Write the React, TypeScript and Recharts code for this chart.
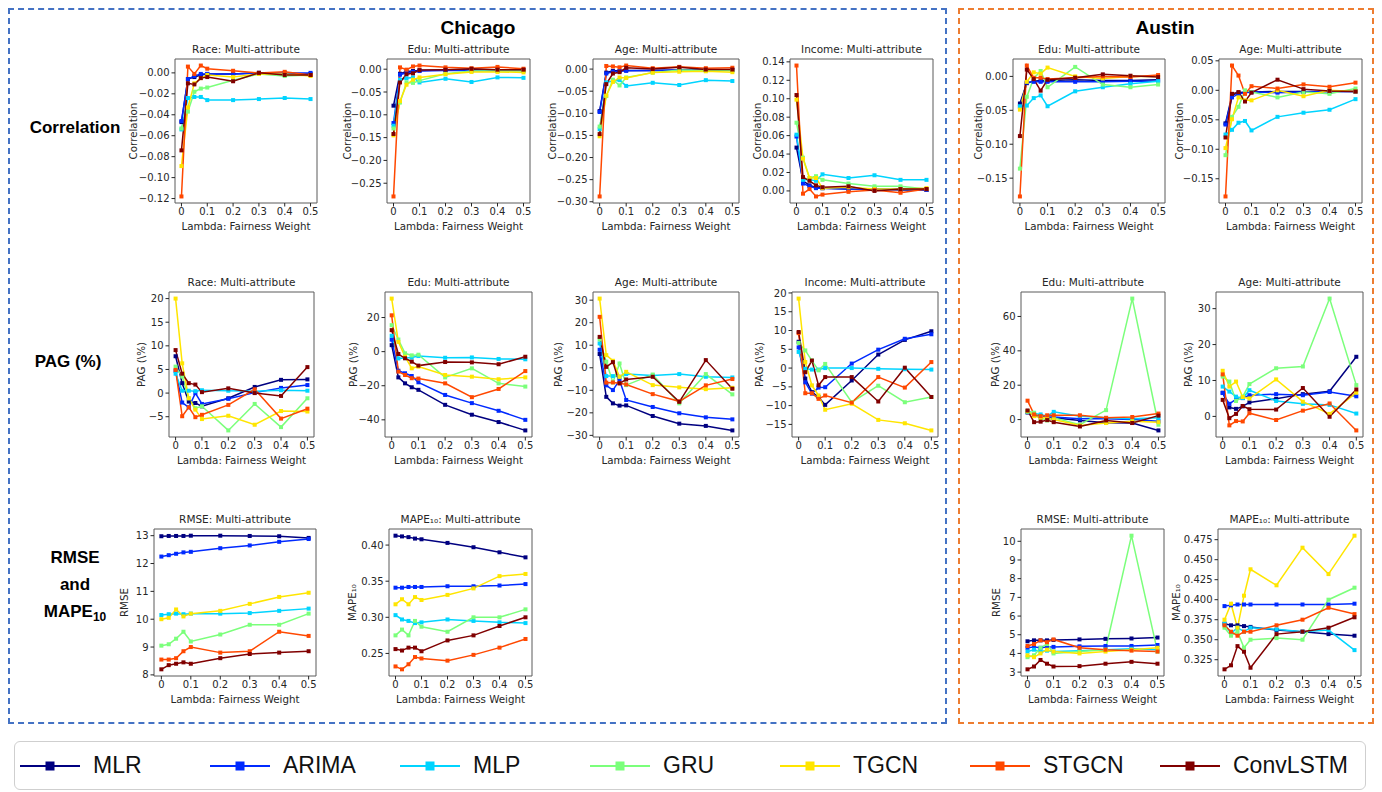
import React from 'react'
import { LineChart, Line, XAxis, YAxis, ReferenceArea } from 'recharts'

const LAMBDA = [0, 0.025, 0.05, 0.075, 0.1, 0.2, 0.3, 0.4, 0.5]
const MODELS = ['MLR', 'ARIMA', 'MLP', 'GRU', 'TGCN', 'STGCN', 'ConvLSTM']
const COLORS = ['#000080', '#002aff', '#00d4ff', '#7bff7b', '#ffe500', '#ff4800', '#800000']
const X_TICKS = [0, 0.1, 0.2, 0.3, 0.4, 0.5]

type Series = Record<string, number[]>

// ---- Chicago, correlation ----
const chiRaceCorr: Series = {
  MLR: [-0.047, -0.006, -0.004, -0.002, -0.001, -0.001, 0.0, -0.001, -0.001],
  ARIMA: [-0.046, -0.006, -0.003, -0.001, -0.001, -0.001, 0.0, 0.0, 0.0],
  MLP: [-0.054, -0.024, -0.023, -0.023, -0.026, -0.026, -0.025, -0.024, -0.025],
  GRU: [-0.053, -0.037, -0.018, -0.015, -0.014, -0.007, -0.001, -0.003, -0.002],
  TGCN: [-0.089, -0.033, -0.01, -0.005, -0.002, -0.004, -0.001, -0.001, -0.003],
  STGCN: [-0.118, 0.006, -0.001, 0.007, 0.004, 0.002, 0.0, 0.001, -0.002],
  ConvLSTM: [-0.074, -0.01, -0.011, -0.005, -0.004, -0.008, 0.0, -0.002, -0.002],
}
const chiEduCorr: Series = {
  MLR: [-0.08, -0.01, -0.005, -0.004, -0.003, -0.002, -0.001, -0.002, -0.002],
  ARIMA: [-0.118, -0.012, -0.008, -0.006, -0.004, -0.003, -0.003, -0.003, -0.003],
  MLP: [-0.124, -0.023, -0.02, -0.018, -0.029, -0.021, -0.028, -0.018, -0.019],
  GRU: [-0.13, -0.073, -0.029, -0.03, -0.025, -0.01, -0.004, -0.004, -0.004],
  TGCN: [-0.145, -0.07, -0.034, -0.023, -0.018, -0.011, -0.006, -0.006, -0.007],
  STGCN: [-0.279, 0.004, -0.001, 0.006, 0.008, 0.004, 0.002, 0.005, 0.001],
  ConvLSTM: [-0.142, -0.029, -0.011, -0.009, -0.002, -0.001, 0.001, -0.001, -0.001],
}
const chiAgeCorr: Series = {
  MLR: [-0.095, -0.008, -0.004, -0.004, -0.003, -0.003, -0.002, -0.002, -0.002],
  ARIMA: [-0.097, -0.01, -0.006, -0.005, -0.004, -0.003, -0.002, -0.002, -0.002],
  MLP: [-0.136, -0.03, -0.027, -0.025, -0.038, -0.031, -0.036, -0.025, -0.027],
  GRU: [-0.13, -0.061, -0.024, -0.037, -0.019, -0.008, -0.002, -0.003, -0.004],
  TGCN: [-0.152, -0.06, -0.029, -0.019, -0.02, -0.008, -0.006, -0.005, -0.007],
  STGCN: [-0.288, 0.007, 0.006, 0.004, 0.008, 0.002, 0.005, 0.002, 0.003],
  ConvLSTM: [-0.147, -0.034, -0.01, -0.007, 0.003, 0.0, 0.004, -0.001, -0.001],
}
const chiIncCorr: Series = {
  MLR: [0.047, 0.011, 0.006, 0.004, 0.003, 0.002, 0.002, 0.001, 0.001],
  ARIMA: [0.059, 0.008, 0.005, 0.003, 0.003, 0.002, 0.002, 0.002, 0.001],
  MLP: [0.061, 0.012, 0.012, 0.011, 0.018, 0.014, 0.017, 0.012, 0.012],
  GRU: [0.074, 0.036, 0.014, 0.016, 0.012, 0.008, 0.005, 0.005, 0.002],
  TGCN: [0.099, 0.035, 0.014, 0.014, 0.003, 0.004, 0.002, 0.002, 0.003],
  STGCN: [0.136, -0.003, 0.002, -0.006, -0.004, -0.001, 0.001, -0.002, 0.002],
  ConvLSTM: [0.104, 0.015, 0.011, 0.006, 0.004, 0.005, 0.0, 0.002, 0.002],
}

// ---- Austin, correlation ----
const ausEduCorr: Series = {
  MLR: [-0.04, -0.01, -0.007, -0.006, -0.006, -0.005, -0.006, -0.006, -0.005],
  ARIMA: [-0.045, -0.009, -0.008, -0.008, -0.008, -0.008, -0.008, -0.007, -0.007],
  MLP: [-0.044, -0.043, -0.032, -0.028, -0.044, -0.022, -0.016, -0.011, -0.007],
  GRU: [-0.136, -0.03, -0.003, 0.008, -0.016, 0.014, -0.012, -0.016, -0.012],
  TGCN: [-0.049, -0.008, 0.006, 0.004, 0.013, 0.0, -0.003, 0.0, 0.0],
  STGCN: [-0.177, 0.016, -0.002, -0.002, -0.004, -0.002, 0.0, -0.001, 0.002],
  ConvLSTM: [-0.088, 0.01, -0.004, -0.021, -0.005, -0.002, 0.003, 0.001, -0.001],
}
const ausAgeCorr: Series = {
  MLR: [-0.056, -0.008, -0.004, -0.003, -0.003, -0.002, -0.002, -0.002, -0.002],
  ARIMA: [-0.058, -0.012, -0.006, -0.004, -0.003, -0.004, -0.003, -0.002, -0.002],
  MLP: [-0.075, -0.067, -0.055, -0.052, -0.068, -0.045, -0.038, -0.033, -0.015],
  GRU: [-0.11, -0.045, -0.028, 0.0, -0.003, -0.012, -0.003, -0.006, 0.003],
  TGCN: [-0.098, -0.049, -0.012, -0.017, -0.017, 0.0, -0.01, 0.0, -0.002],
  STGCN: [-0.18, 0.042, 0.025, -0.006, 0.007, 0.003, 0.01, 0.006, 0.013],
  ConvLSTM: [-0.08, -0.006, -0.003, -0.019, -0.004, 0.018, 0.002, -0.001, -0.002],
}

// ---- Chicago, PAG ----
const chiRacePag: Series = {
  MLR: [7.8, 2.1, -1.8, -2.1, -2.8, -1.1, 1.3, 2.8, 2.9],
  ARIMA: [4.7, -2.0, -3.0, 0.0, -2.3, -1.2, 0.1, 1.1, 1.7],
  MLP: [4.1, 0.5, 0.5, 0.4, 0.6, 0.5, 0.4, 0.6, 0.5],
  GRU: [5.6, 3.5, -1.1, -3.2, -2.8, -7.9, -2.3, -7.2, -1.1],
  TGCN: [20.0, 6.3, -1.1, -3.5, -5.5, -4.8, -6.7, -3.8, -3.9],
  STGCN: [4.9, -4.9, -3.0, -5.1, -4.6, -2.5, 0.8, -5.4, -3.3],
  ConvLSTM: [9.1, 4.1, 2.1, 1.8, 0.2, 1.0, 0.0, -0.6, 5.5],
}
const chiEduPag: Series = {
  MLR: [3.8, -15.1, -18.6, -20.9, -22.4, -31.2, -37.0, -41.3, -46.2],
  ARIMA: [7.0, -11.2, -12.7, -14.3, -18.0, -25.4, -30.2, -34.7, -40.0],
  MLP: [9.3, -4.0, -3.8, -3.5, -2.6, -3.6, -3.4, -4.3, -4.5],
  GRU: [15.5, 7.1, -1.0, -2.2, -1.8, -15.1, -9.8, -18.6, -20.5],
  TGCN: [31.1, 5.7, -3.0, -9.8, -8.8, -13.7, -14.7, -16.2, -15.1],
  STGCN: [21.3, -11.7, -13.7, -15.6, -15.8, -18.6, -26.7, -21.9, -11.4],
  ConvLSTM: [12.6, -1.4, -3.9, -5.9, -8.2, -6.1, -6.3, -7.4, -3.0],
}
const chiAgePag: Series = {
  MLR: [6.1, -12.9, -15.8, -16.8, -16.7, -21.4, -24.8, -25.8, -27.8],
  ARIMA: [8.0, -7.8, -9.9, -5.5, -14.3, -17.4, -20.2, -22.0, -22.9],
  MLP: [10.8, -3.7, -3.7, -4.0, -2.8, -3.4, -2.8, -4.0, -4.3],
  GRU: [12.6, 2.7, -6.5, 1.9, -7.7, -3.0, -15.8, -2.8, -11.8],
  TGCN: [30.7, 5.6, 3.1, -4.0, -1.8, -7.7, -8.7, -9.5, -8.9],
  STGCN: [22.6, -6.6, -6.5, -6.9, -7.4, -11.7, -14.9, -7.8, -5.0],
  ConvLSTM: [13.7, 0.4, 2.5, -6.9, -5.2, -4.0, -15.1, 3.4, -9.3],
}
const chiIncPag: Series = {
  MLR: [7.0, -2.8, -6.4, -7.7, -9.8, -3.3, 3.6, 7.5, 9.8],
  ARIMA: [5.5, -3.8, -6.8, -5.2, -5.1, 1.2, 4.9, 7.8, 9.0],
  MLP: [4.3, -0.2, -0.4, -0.4, 0.0, 0.0, -0.2, -0.3, -0.4],
  GRU: [6.7, 4.7, 2.0, -0.6, 1.1, -9.1, -4.7, -9.1, -7.7],
  TGCN: [18.5, 1.6, -4.6, -7.3, -11.1, -9.5, -13.8, -14.7, -16.6],
  STGCN: [9.3, -6.7, -6.7, -8.2, -7.3, -9.2, -2.4, -5.2, 1.6],
  ConvLSTM: [9.6, -1.1, 2.0, -4.6, -2.4, -2.4, -8.9, 0.1, -7.7],
}

// ---- Austin, PAG ----
const ausEduPag: Series = {
  MLR: [4.1, 2.6, 2.0, 1.0, 1.0, -0.5, -1.8, -2.0, -6.3],
  ARIMA: [4.5, 2.5, 1.5, 1.5, 1.5, 0.5, 0.5, 0.0, -1.0],
  MLP: [5.0, 3.5, 3.0, 2.0, 4.5, 2.0, 1.0, 0.5, 1.0],
  GRU: [4.5, 4.0, 1.0, -0.5, 1.0, -3.0, 5.5, 70.4, -3.0],
  TGCN: [5.0, 2.0, 1.0, 1.0, 0.0, -3.5, -2.0, -1.0, -1.5],
  STGCN: [11.0, 3.0, 2.0, 2.5, 2.5, 2.5, 1.0, 1.5, 3.5],
  ConvLSTM: [5.3, -1.5, -1.2, -0.3, -1.5, -4.0, -0.5, -2.0, 2.3],
}
const ausAgePag: Series = {
  MLR: [6.6, 2.5, 2.1, 2.8, 3.9, 4.9, 6.2, 7.0, 16.6],
  ARIMA: [6.5, 3.5, 4.8, 5.1, 5.9, 6.2, 5.9, 6.8, 5.6],
  MLP: [8.3, 6.9, 5.5, 5.1, 7.3, 4.3, 3.5, 3.2, 0.8],
  GRU: [11.1, 9.7, 4.3, 5.5, 9.0, 13.4, 13.9, 32.8, 8.7],
  TGCN: [12.7, 8.3, 9.7, 5.4, 5.0, 10.3, 4.1, 0.7, 6.6],
  STGCN: [11.7, -2.5, -1.3, -1.4, 0.9, -1.0, 1.6, 3.6, -3.9],
  ConvLSTM: [4.6, -0.5, 0.7, 2.9, 2.0, 1.9, 7.9, -0.1, 7.5],
}

// ---- Error metrics ----
const chiRmse: Series = {
  MLR: [12.98, 12.99, 12.99, 12.99, 13.0, 13.0, 12.99, 12.98, 12.92],
  ARIMA: [12.25, 12.3, 12.35, 12.4, 12.42, 12.55, 12.65, 12.78, 12.88],
  MLP: [10.15, 10.18, 10.2, 10.18, 10.2, 10.2, 10.22, 10.3, 10.38],
  GRU: [9.05, 9.1, 9.3, 9.55, 9.2, 9.45, 9.8, 9.8, 10.2],
  TGCN: [10.0, 10.05, 10.35, 10.1, 10.2, 10.3, 10.55, 10.8, 10.95],
  STGCN: [8.55, 8.55, 8.6, 8.85, 9.0, 8.8, 8.85, 9.55, 9.4],
  ConvLSTM: [8.2, 8.35, 8.4, 8.45, 8.4, 8.6, 8.75, 8.8, 8.85],
}
const chiMape: Series = {
  MLR: [0.413, 0.412, 0.411, 0.409, 0.408, 0.403, 0.397, 0.39, 0.383],
  ARIMA: [0.341, 0.341, 0.342, 0.342, 0.342, 0.343, 0.343, 0.344, 0.346],
  MLP: [0.303, 0.297, 0.295, 0.292, 0.293, 0.297, 0.295, 0.293, 0.292],
  GRU: [0.275, 0.283, 0.275, 0.295, 0.287, 0.28, 0.3, 0.3, 0.311],
  TGCN: [0.318, 0.325, 0.318, 0.328, 0.324, 0.331, 0.34, 0.357, 0.36],
  STGCN: [0.232, 0.228, 0.235, 0.245, 0.243, 0.24, 0.248, 0.258, 0.27],
  ConvLSTM: [0.256, 0.254, 0.258, 0.258, 0.253, 0.268, 0.275, 0.288, 0.3],
}
const ausRmse: Series = {
  MLR: [4.65, 4.7, 4.7, 4.7, 4.72, 4.75, 4.78, 4.8, 4.85],
  ARIMA: [4.3, 4.35, 4.3, 4.35, 4.35, 4.38, 4.4, 4.4, 4.45],
  MLP: [4.1, 4.2, 4.1, 4.15, 4.1, 4.15, 4.2, 4.25, 4.2],
  GRU: [3.8, 3.9, 4.3, 4.5, 4.0, 4.1, 4.2, 10.3, 4.1],
  TGCN: [3.9, 3.8, 4.0, 4.2, 4.1, 4.0, 4.1, 4.2, 4.3],
  STGCN: [4.4, 4.5, 4.7, 4.6, 4.75, 4.3, 4.2, 4.15, 4.1],
  ConvLSTM: [3.15, 3.3, 3.65, 3.45, 3.3, 3.32, 3.45, 3.55, 3.45],
}
const ausMape: Series = {
  MLR: [0.37, 0.368, 0.368, 0.367, 0.366, 0.362, 0.36, 0.357, 0.355],
  ARIMA: [0.392, 0.393, 0.394, 0.394, 0.394, 0.394, 0.394, 0.394, 0.395],
  MLP: [0.37, 0.358, 0.365, 0.36, 0.365, 0.363, 0.36, 0.362, 0.337],
  GRU: [0.365, 0.355, 0.36, 0.34, 0.35, 0.352, 0.35, 0.4, 0.415],
  TGCN: [0.375, 0.395, 0.365, 0.405, 0.438, 0.418, 0.465, 0.432, 0.48],
  STGCN: [0.368, 0.36, 0.355, 0.36, 0.36, 0.368, 0.375, 0.39, 0.382],
  ConvLSTM: [0.313, 0.318, 0.342, 0.335, 0.315, 0.357, 0.36, 0.365, 0.378],
}

const MPL_FONT = 'DejaVu Sans, sans-serif'
const TXT = '#262626'

function fmtNum(v: number, digits: number) {
  const s = Math.abs(v) < 1e-9 ? (0).toFixed(digits) : v.toFixed(digits)
  return s.replace('-', '\u2212')
}

interface PanelProps {
  title: string
  yLabel: string
  series: Series
  left: number
  top: number
  w: number
  h: number
  yTicks: number[]
  digits: number
  gap: number
}

const YW = 70
const XH = 34
const MT = 8
const MR = 3

function Panel({ title, yLabel, series, left, top, w, h, yTicks, digits, gap }: PanelProps) {
  const data = LAMBDA.map((x, i) => {
    const row: Record<string, number> = { x }
    MODELS.forEach((m) => (row[m] = series[m][i]))
    return row
  })
  const all = MODELS.flatMap((m) => series[m])
  const lo = Math.min(...all)
  const hi = Math.max(...all)
  const pad = (hi - lo) * 0.05
  const yDomain = [lo - pad, hi + pad]

  const xLabel = (props: any) => {
    const vb = props.viewBox
    return (
      <text x={vb.x + vb.width / 2} y={vb.y + 27} textAnchor="middle" fontSize={10.3} fill={TXT} fontFamily={MPL_FONT}>
        Lambda: Fairness Weight
      </text>
    )
  }
  const yLab = (props: any) => {
    const vb = props.viewBox
    const cx = vb.x + vb.width - gap + 4
    const cy = vb.y + vb.height / 2
    return (
      <text x={cx} y={cy} transform={`rotate(-90 ${cx} ${cy})`} textAnchor="middle" fontSize={10.3} fill={TXT} fontFamily={MPL_FONT}>
        {yLabel}
      </text>
    )
  }

  return (
    <>
      <div
        style={{
          position: 'absolute',
          left,
          top: top - 16,
          width: w,
          textAlign: 'center',
          fontFamily: MPL_FONT,
          fontSize: 10.5,
          lineHeight: '13px',
          color: TXT,
          whiteSpace: 'nowrap',
        }}
      >
        {title}
      </div>
      <div style={{ position: 'absolute', left: left - YW, top: top - MT }}>
        <LineChart width={YW + w + MR} height={MT + h + XH} data={data} margin={{ top: MT, right: MR, left: 0, bottom: 0 }}>
          <XAxis
            dataKey="x"
            type="number"
            domain={[-0.025, 0.525]}
            ticks={X_TICKS}
            allowDataOverflow
            height={XH}
            axisLine={false}
            tickSize={3.5}
            tickMargin={1}
            tickLine={{ stroke: TXT }}
            tick={{ fontSize: 10, fill: TXT, fontFamily: MPL_FONT }}
            tickFormatter={(v: number) => (v === 0 ? '0' : v.toFixed(1))}
            interval={0}
            label={xLabel}
          />
          <YAxis
            type="number"
            domain={yDomain}
            ticks={yTicks}
            allowDataOverflow
            width={YW}
            axisLine={false}
            tickSize={3.5}
            tickMargin={2}
            tickLine={{ stroke: TXT }}
            tick={{ fontSize: 10, fill: TXT, fontFamily: MPL_FONT }}
            tickFormatter={(v: number) => fmtNum(v, digits)}
            interval={0}
            label={yLab}
          />
          <ReferenceArea x1={-0.025} x2={0.525} y1={yDomain[0]} y2={yDomain[1]} fill="none" stroke="#5a5a5a" strokeWidth={1} ifOverflow="visible" />
          {MODELS.map((m, k) => (
            <Line
              key={m}
              dataKey={m}
              type="linear"
              stroke={COLORS[k]}
              strokeWidth={1.5}
              isAnimationActive={false}
              dot={(p: any) => (
                <rect key={`${m}-${p.index}`} x={p.cx - 2} y={p.cy - 2} width={4} height={4} fill={COLORS[k]} />
              )}
              activeDot={false}
            />
          ))}
        </LineChart>
      </div>
    </>
  )
}

const rowLabel: React.CSSProperties = {
  position: 'absolute',
  fontFamily: 'Liberation Sans, Arial, sans-serif',
  fontWeight: 'bold',
  fontSize: 17,
  color: '#000',
  textAlign: 'center',
  width: 140,
  lineHeight: '27px',
}

function LegendBar() {
  return (
    <div
      style={{
        position: 'absolute',
        left: 14,
        top: 741,
        width: 1352,
        height: 49,
        boxSizing: 'border-box',
        border: '1px solid #cfcfcf',
        borderRadius: 6,
        display: 'flex',
        alignItems: 'center',
        paddingLeft: 4,
      }}
    >
      {MODELS.map((m, k) => (
        <div key={m} style={{ width: 190, display: 'flex', alignItems: 'center' }}>
          <svg width={62} height={20}>
            <line x1={1} y1={10} x2={61} y2={10} stroke={COLORS[k]} strokeWidth={2} />
            <rect x={26.5} y={5.5} width={9} height={9} fill={COLORS[k]} />
          </svg>
          <span
            style={{
              marginLeft: 12,
              fontFamily: 'Liberation Sans, Arial, sans-serif',
              fontSize: 23,
              color: '#111',
            }}
          >
            {m}
          </span>
        </div>
      ))}
    </div>
  )
}

export default function App() {
  return (
    <div style={{ position: 'absolute', left: 0, top: 0, width: 1382, height: 792, background: '#fff', overflow: 'hidden' }}>
      {/* region boxes */}
      <div style={{ position: 'absolute', left: 8, top: 8, width: 939, height: 716, boxSizing: 'border-box', border: '2.5px dashed #4472c4' }} />
      <div style={{ position: 'absolute', left: 958, top: 8, width: 416, height: 716, boxSizing: 'border-box', border: '2.5px dashed #ed7d31' }} />
      <div style={{ ...rowLabel, left: 408, top: 14, fontSize: 19 }}>Chicago</div>
      <div style={{ ...rowLabel, left: 1095, top: 14, fontSize: 19 }}>Austin</div>

      <div style={{ ...rowLabel, left: 5, top: 114 }}>Correlation</div>
      <div style={{ ...rowLabel, left: -2, top: 348 }}>PAG (%)</div>
      <div style={{ ...rowLabel, left: 5, top: 544 }}>
        RMSE
        <br />
        and
        <br />
        MAPE<sub style={{ fontSize: 12 }}>10</sub>
      </div>

      {/* row 1 */}
      <Panel title="Race: Multi-attribute" yLabel="Correlation" series={chiRaceCorr} left={175} top={59} w={142} h={144}
        yTicks={[-0.12, -0.1, -0.08, -0.06, -0.04, -0.02, 0]} digits={2} gap={42} />
      <Panel title="Edu: Multi-attribute" yLabel="Correlation" series={chiEduCorr} left={387} top={59} w={143} h={144}
        yTicks={[-0.25, -0.2, -0.15, -0.1, -0.05, 0]} digits={2} gap={40} />
      <Panel title="Age: Multi-attribute" yLabel="Correlation" series={chiAgeCorr} left={593} top={59} w={146} h={144}
        yTicks={[-0.3, -0.25, -0.2, -0.15, -0.1, -0.05, 0]} digits={2} gap={41} />
      <Panel title="Income: Multi-attribute" yLabel="Correlation" series={chiIncCorr} left={790} top={59} w={143} h={144}
        yTicks={[0, 0.02, 0.04, 0.06, 0.08, 0.1, 0.12, 0.14]} digits={2} gap={33} />
      <Panel title="Edu: Multi-attribute" yLabel="Correlation" series={ausEduCorr} left={1013} top={59} w={152} h={144}
        yTicks={[-0.15, -0.1, -0.05, 0]} digits={2} gap={35} />
      <Panel title="Age: Multi-attribute" yLabel="Correlation" series={ausAgeCorr} left={1219} top={59} w={143} h={144}
        yTicks={[-0.15, -0.1, -0.05, 0, 0.05]} digits={2} gap={40} />

      {/* row 2 */}
      <Panel title="Race: Multi-attribute" yLabel="PAG (\%)" series={chiRacePag} left={169} top={292} w={145} h={145}
        yTicks={[-5, 0, 5, 10, 15, 20]} digits={0} gap={28} />
      <Panel title="Edu: Multi-attribute" yLabel="PAG (\%)" series={chiEduPag} left={385} top={292} w={147} h={145}
        yTicks={[-40, -20, 0, 20]} digits={0} gap={32} />
      <Panel title="Age: Multi-attribute" yLabel="PAG (\%)" series={chiAgePag} left={593} top={292} w={146} h={145}
        yTicks={[-30, -20, -10, 0, 10, 20, 30]} digits={0} gap={35} />
      <Panel title="Income: Multi-attribute" yLabel="PAG (\%)" series={chiIncPag} left={792} top={292} w={146} h={145}
        yTicks={[-15, -10, -5, 0, 5, 10, 15, 20]} digits={0} gap={33} />
      <Panel title="Edu: Multi-attribute" yLabel="PAG (\%)" series={ausEduPag} left={1021} top={292} w={144} h={145}
        yTicks={[0, 20, 40, 60]} digits={0} gap={26} />
      <Panel title="Age: Multi-attribute" yLabel="PAG (\%)" series={ausAgePag} left={1216} top={292} w={147} h={145}
        yTicks={[0, 10, 20, 30]} digits={0} gap={28} />

      {/* row 3 */}
      <Panel title="RMSE: Multi-attribute" yLabel="RMSE" series={chiRmse} left={154} top={529} w={162} h={147}
        yTicks={[8, 9, 10, 11, 12, 13]} digits={0} gap={30} />
      <Panel title={'MAPE\u2081\u2080: Multi-attribute'} yLabel={'MAPE\u2081\u2080'} series={chiMape} left={389} top={529} w={143} h={147}
        yTicks={[0.25, 0.3, 0.35, 0.4]} digits={2} gap={37} />
      <Panel title="RMSE: Multi-attribute" yLabel="RMSE" series={ausRmse} left={1021} top={529} w={143} h={147}
        yTicks={[3, 4, 5, 6, 7, 8, 9, 10]} digits={0} gap={25} />
      <Panel title={'MAPE\u2081\u2080: Multi-attribute'} yLabel={'MAPE\u2081\u2080'} series={ausMape} left={1218} top={529} w={143} h={147}
        yTicks={[0.325, 0.35, 0.375, 0.4, 0.425, 0.45, 0.475]} digits={3} gap={42} />

      <LegendBar />
    </div>
  )
}
